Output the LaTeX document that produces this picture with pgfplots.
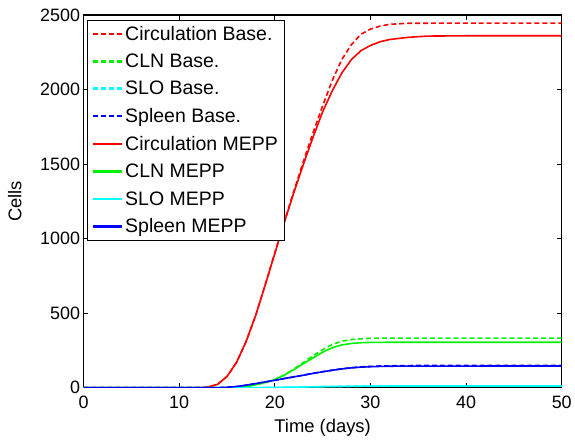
\documentclass[border=0pt]{standalone}
\usepackage{fontspec}
\setmainfont{Liberation Sans}
\usepackage{pgfplots}
\pgfplotsset{compat=1.18}
\definecolor{cRed}{rgb}{1,0,0}
\definecolor{cGreen}{rgb}{0,0.95,0}
\definecolor{cCyan}{rgb}{0,1,1}
\definecolor{cBlue}{rgb}{0,0,1}
\begin{document}
\begin{tikzpicture}[font=\fontsize{19.6}{22}\selectfont]
\begin{axis}[
  name=main,
  scale only axis,
  width=481pt, height=375pt,
  xmin=0, xmax=50, ymin=0, ymax=2500,
  xtick={0,10,20,30,40,50},
  ytick={0,500,1000,1500,2000,2500},
  tick align=inside,
  major tick length=5pt,
  axis line style={line width=1.2pt, black},
  tick style={line width=1pt, black},
  /pgf/number format/assume math mode=true,
  /pgf/number format/1000 sep={},
  tick label style={font=\fontsize{18}{21}\selectfont},
  xticklabel style={yshift=-5pt},
  label style={font=\fontsize{18.5}{21}\selectfont},
  xlabel={Time (days)},
  ylabel={Cells},
  xlabel style={yshift=-3pt},
  ylabel style={yshift=12pt},
  scaled y ticks=false,
  legend cell align=left,
  legend style={at={(rel axis cs:0.008,0.987)}, anchor=north west,
    draw=black, row sep=8.3pt, inner xsep=4.5pt, inner ysep=4pt},
  legend image code/.code={%
    \draw[#1, line width=2.4pt] (0pt,0pt) -- (29pt,0pt);},
]
\addplot[draw=cRed, line width=1.6pt, dash pattern=on 5pt off 3pt] coordinates {
(0,0) (12.3,0) (13,5) (14,22) (15,75) (16,170) (17,310) (18,485) (19,690) (20,905) (21,1115)
(22,1320) (23,1520) (24,1710) (25,1890) (26,2060) (27,2200) (28,2300) (29,2370) (30,2405)
(31,2425) (32,2437) (34,2444) (40,2445) (50,2445)};
\addlegendentry{Circulation Base.}
\addplot[draw=cGreen, line width=1.6pt, dash pattern=on 5pt off 3pt] coordinates {
(0,0) (15,0) (16,2) (17,8) (18,20) (19,35) (20,55) (21,85) (22,125) (23,170) (24,215) (25,255)
(26,290) (27,312) (28,323) (29,328) (30,331) (32,333) (50,333)};
\addlegendentry{CLN Base.}
\addplot[draw=cCyan, line width=1.6pt, dash pattern=on 5pt off 3pt] coordinates {
(0,0) (16,0) (20,2) (25,8) (30,12) (35,13) (50,13)};
\addlegendentry{SLO Base.}
\addplot[draw=cBlue, line width=1.6pt, dash pattern=on 5pt off 3pt] coordinates {
(0,0) (14,0) (15,3) (16,8) (17,17) (18,28) (19,39) (20,50) (21,62) (22,73) (23,85) (24,97)
(25,108) (26,118) (27,127) (28,135) (29,140) (30,143) (31,146) (33,148) (36,150) (50,150)};
\addlegendentry{Spleen Base.}
\addplot[draw=cRed, line width=1.6pt] coordinates {
(0,0) (12.3,0) (13,5) (14,22) (15,75) (16,170) (17,310) (18,485) (19,690) (20,900) (21,1110)
(22,1310) (23,1500) (24,1680) (25,1850) (26,1990) (27,2110) (28,2200) (29,2260) (30,2295)
(31,2320) (32,2335) (34,2350) (36,2358) (40,2360) (50,2360)};
\addlegendentry{Circulation MEPP}
\addplot[draw=cGreen, line width=1.6pt] coordinates {
(0,0) (15,0) (16,2) (17,8) (18,20) (19,35) (20,55) (21,85) (22,122) (23,162) (24,200) (25,238)
(26,268) (27,287) (28,297) (29,302) (30,304) (32,305) (50,305)};
\addlegendentry{CLN MEPP}
\addplot[draw=cCyan, line width=1.6pt] coordinates {
(0,0) (16,0) (20,2) (25,7) (30,11) (35,12) (50,12)};
\addlegendentry{SLO MEPP}
\addplot[draw=cBlue, line width=1.6pt] coordinates {
(0,0) (14,0) (15,3) (16,8) (17,17) (18,28) (19,39) (20,50) (21,62) (22,73) (23,84) (24,96)
(25,107) (26,117) (27,126) (28,133) (29,138) (30,141) (31,143) (33,145) (50,146)};
\addlegendentry{Spleen MEPP}
\end{axis}
\path ([xshift=-84pt,yshift=-51pt]main.south west) rectangle ([xshift=10pt,yshift=15pt]main.north east);
\end{tikzpicture}
\end{document}
